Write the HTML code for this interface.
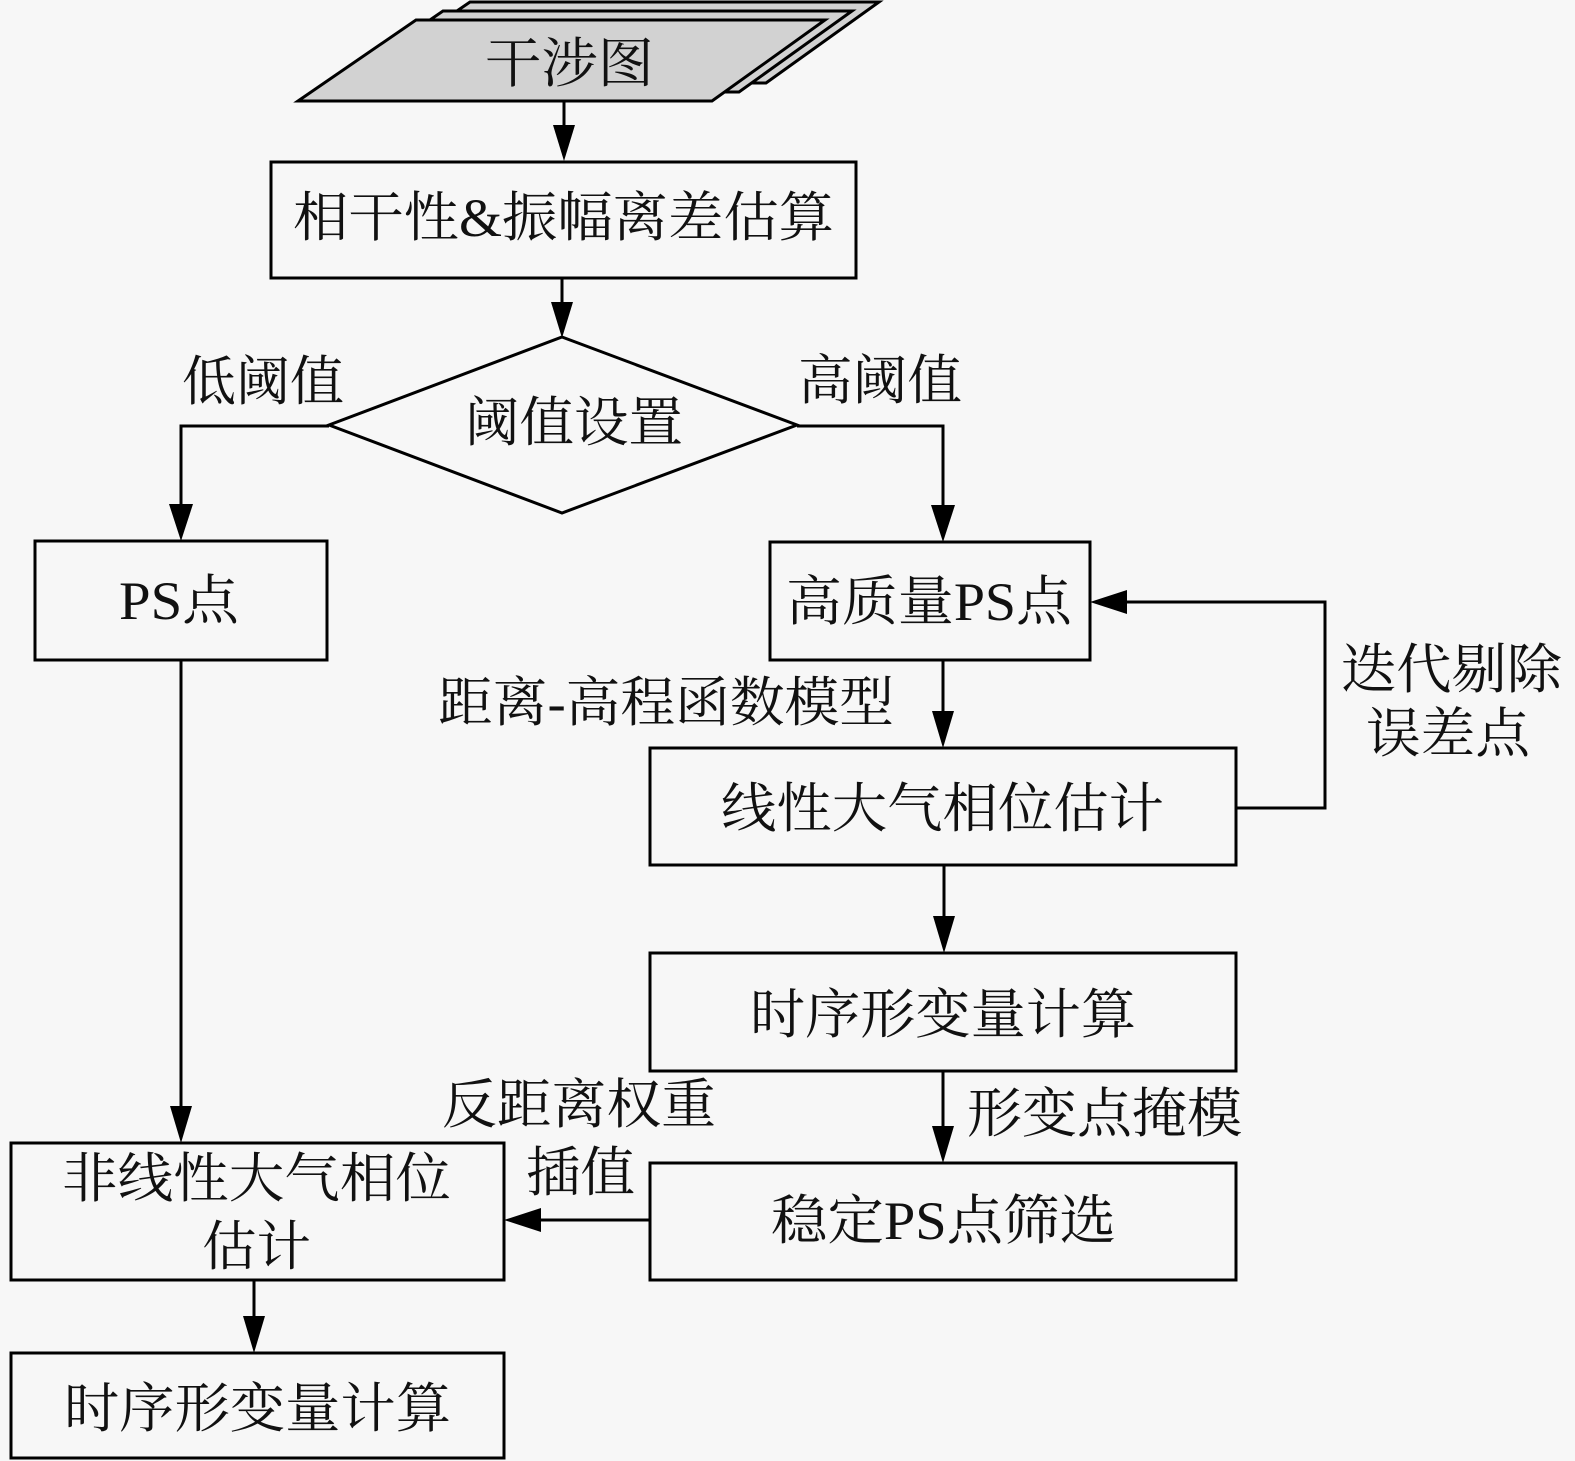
<!DOCTYPE html>
<html>
<head>
<meta charset="utf-8">
<style>
  html, body { margin: 0; padding: 0; background: #f7f7f7; }
  svg { display: block; }
  text { font-family: "Liberation Serif", "Noto Serif CJK SC", serif; font-size: 54px; fill: #111; }
</style>
</head>
<body>
<svg width="1575" height="1461" viewBox="0 0 1575 1461" xmlns="http://www.w3.org/2000/svg">
  <rect x="0" y="0" width="1575" height="1461" fill="#f7f7f7"/>

  <!-- stacked parallelograms -->
  <g stroke="#000" stroke-width="3" fill="#d2d2d2" stroke-linejoin="miter">
    <polygon points="352,83 470,2 879,2 766,83"/>
    <polygon points="325,92 443,11 852,11 739,92"/>
    <polygon points="298,101 416,20 825,20 712,101"/>
  </g>

  <g stroke="#000" stroke-width="3" fill="none">
    <!-- boxes -->
    <rect x="271" y="162" width="585" height="116"/>
    <polygon points="562,337 797,425 562,513 329,425"/>
    <rect x="35" y="541" width="292" height="119"/>
    <rect x="770" y="542" width="320" height="118"/>
    <rect x="650" y="748" width="586" height="117"/>
    <rect x="650" y="953" width="586" height="118"/>
    <rect x="650" y="1163" width="586" height="117"/>
    <rect x="11" y="1143" width="493" height="137"/>
    <rect x="11" y="1353" width="493" height="105"/>

    <!-- connectors -->
    <line x1="564" y1="101" x2="564" y2="130"/>
    <line x1="562" y1="278" x2="562" y2="306"/>
    <polyline points="329,426 181,426 181,510"/>
    <polyline points="797,426 943,426 943,510"/>
    <line x1="943" y1="660" x2="943" y2="716"/>
    <polyline points="1236,808 1325,808 1325,602 1120,602"/>
    <line x1="944" y1="865" x2="944" y2="920"/>
    <line x1="943" y1="1071" x2="943" y2="1130"/>
    <line x1="650" y1="1220" x2="535" y2="1220"/>
    <line x1="181" y1="660" x2="181" y2="1110"/>
    <line x1="254" y1="1280" x2="254" y2="1320"/>
  </g>

  <!-- arrowheads -->
  <g fill="#000" stroke="none">
    <polygon points="553,125 575,125 564,161"/>
    <polygon points="551,302 573,302 562,338"/>
    <polygon points="169,504 193,504 181,541"/>
    <polygon points="931,505 955,505 943,542"/>
    <polygon points="932,711 954,711 943,748"/>
    <polygon points="1127,590 1127,614 1090,602"/>
    <polygon points="933,916 955,916 944,953"/>
    <polygon points="932,1126 954,1126 943,1163"/>
    <polygon points="541,1208 541,1232 504,1220"/>
    <polygon points="170,1106 192,1106 181,1143"/>
    <polygon points="243,1316 265,1316 254,1353"/>
  </g>

  <!-- labels -->
  <g>
    <text x="485" y="82" textLength="169" lengthAdjust="spacingAndGlyphs">干涉图</text>
    <text x="293" y="236" textLength="541" lengthAdjust="spacingAndGlyphs">相干性&amp;振幅离差估算</text>
    <text x="465" y="441" textLength="218" lengthAdjust="spacingAndGlyphs">阈值设置</text>
    <text x="182" y="400" textLength="162" lengthAdjust="spacingAndGlyphs">低阈值</text>
    <text x="798" y="399" textLength="164" lengthAdjust="spacingAndGlyphs">高阈值</text>
    <text x="119" y="619" textLength="120" lengthAdjust="spacingAndGlyphs">PS点</text>
    <text x="786" y="620" textLength="286" lengthAdjust="spacingAndGlyphs">高质量PS点</text>
    <text x="438" y="721" textLength="456" lengthAdjust="spacingAndGlyphs">距离-高程函数模型</text>
    <text x="721" y="827" textLength="443" lengthAdjust="spacingAndGlyphs">线性大气相位估计</text>
    <text x="1341" y="688" textLength="221" lengthAdjust="spacingAndGlyphs">迭代剔除</text>
    <text x="1366" y="752" textLength="164" lengthAdjust="spacingAndGlyphs">误差点</text>
    <text x="750" y="1033" textLength="386" lengthAdjust="spacingAndGlyphs">时序形变量计算</text>
    <text x="967" y="1132" textLength="275" lengthAdjust="spacingAndGlyphs">形变点掩模</text>
    <text x="771" y="1239" textLength="345" lengthAdjust="spacingAndGlyphs">稳定PS点筛选</text>
    <text x="442" y="1123" textLength="274" lengthAdjust="spacingAndGlyphs">反距离权重</text>
    <text x="526" y="1191" textLength="109" lengthAdjust="spacingAndGlyphs">插值</text>
    <text x="62" y="1197" textLength="389" lengthAdjust="spacingAndGlyphs">非线性大气相位</text>
    <text x="202" y="1265" textLength="109" lengthAdjust="spacingAndGlyphs">估计</text>
    <text x="64" y="1427" textLength="387" lengthAdjust="spacingAndGlyphs">时序形变量计算</text>
  </g>
</svg>
</body>
</html>
